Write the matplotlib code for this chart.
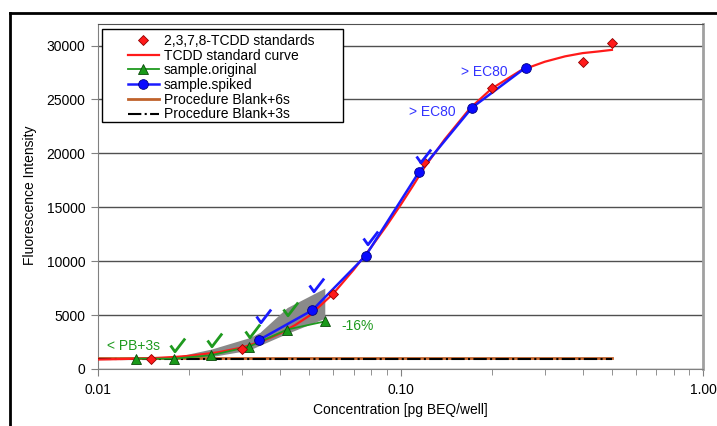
import numpy as np
import matplotlib
matplotlib.use('Agg')
import matplotlib.pyplot as plt
from matplotlib.ticker import FuncFormatter, LogLocator, MultipleLocator
from matplotlib.lines import Line2D
from matplotlib.patches import Rectangle
from matplotlib.path import Path
from matplotlib.transforms import offset_copy

plt.rcParams['font.family'] = ['Liberation Sans', 'DejaVu Sans']

## data
std_conc = [0.015, 0.030, 0.060, 0.120, 0.200, 0.400, 0.500]
std_fi = [950, 1900, 7000, 19200, 26100, 28500, 30200]

curve_conc = [0.010, 0.012, 0.015, 0.018, 0.020, 0.025, 0.030, 0.035, 0.040, 0.045, 0.050,
              0.060, 0.070, 0.080, 0.090, 0.100, 0.110, 0.120, 0.140, 0.170, 0.200,
              0.250, 0.300, 0.350, 0.400, 0.450, 0.500]
curve_fi = [880, 920, 1000, 1120, 1220, 1550, 2000, 2600, 3300, 4100, 4950,
            7000, 9200, 11300, 13300, 15200, 17000, 18700, 21300, 24200, 26000,
            27700, 28500, 29000, 29300, 29450, 29600]

orig_conc = [0.01336, 0.0178, 0.0237, 0.0316, 0.0422, 0.0562]
orig_fi = [960, 960, 1280, 2080, 3660, 4410]

spiked_conc = [0.0341, 0.0511, 0.0767, 0.115, 0.1725, 0.259]
spiked_fi = [2700, 5450, 10500, 18250, 24250, 27950]

band_conc = [0.0178, 0.0237, 0.0316, 0.0343, 0.0422, 0.0562]
band_lo = [950, 1150, 1750, 2200, 3300, 4700]
band_hi = [1100, 1850, 2900, 3400, 5700, 7500]

blank_conc = [0.01, 0.5]
pb_6s = 1010
pb_3s = 950

green_checks = [0.0178, 0.0237, 0.0316, 0.0422]   # original samples inside range
blue_checks = [0.0341, 0.0511, 0.0767, 0.115]     # spiked samples inside range

######## PLOT
fig = plt.figure(figsize=(7.17, 4.26), dpi=100)
ax = fig.add_axes([98/717, 57/426, 605/717, 345/426])

ax.set_xscale('log')
ax.set_xlim(0.01, 1.0)
ax.set_ylim(0, 32000)

ax.yaxis.set_major_locator(MultipleLocator(5000))
ax.grid(axis='y', color='#505050', lw=1, zorder=0)
ax.xaxis.set_major_locator(LogLocator(base=10))
ax.xaxis.set_minor_locator(LogLocator(base=10, subs=np.arange(2, 10)))
ax.xaxis.set_minor_formatter(FuncFormatter(lambda v, p: ''))
ax.xaxis.set_major_formatter(FuncFormatter(lambda v, p: '%.2f' % v))
ax.tick_params(axis='both', which='major', direction='out', length=5, color='#808080',
               labelsize=10, pad=4)
ax.tick_params(axis='x', which='minor', direction='out', length=4, color='#808080')
ax.tick_params(axis='x', which='major', pad=5)

ax.spines['left'].set_color('#808080')
ax.spines['bottom'].set_color('#808080')
ax.spines['top'].set_color('#505050')
ax.spines['right'].set_color('#a0a0a0')
ax.spines['right'].set_linewidth(2)

# grey uncertainty band
ax.fill_between(band_conc, band_lo, band_hi, color='#8a8a8a', lw=0, zorder=2)

# blank lines
h_pb6, = ax.plot(blank_conc, [pb_6s, pb_6s], color='#c0622b', lw=2, zorder=3,
                 label='Procedure Blank+6s')
h_pb3, = ax.plot(blank_conc, [pb_3s, pb_3s], color='black', lw=1.5, ls='-.', zorder=3.5,
                 label='Procedure Blank+3s')

h_curve, = ax.plot(curve_conc, curve_fi, color='#ff1a1a', lw=1.6, zorder=4,
                   label='TCDD standard curve')
h_orig, = ax.plot(orig_conc, orig_fi, color='#1f9a1f', lw=1.3, marker='^', ms=7,
                  mfc='#1a9a1a', mec='#0a4a0a', mew=0.6, zorder=5, label='sample.original')
h_spk, = ax.plot(spiked_conc, spiked_fi, color='#1a1aff', lw=1.8, marker='o', ms=7,
                 mfc='#0a0aff', mec='#000080', mew=0.6, zorder=6, label='sample.spiked')
h_std, = ax.plot(std_conc, std_fi, ls='none', marker='D', ms=5.5, mfc='#ff1a1a',
                 mec='#900000', mew=0.6, zorder=7, label='2,3,7,8-TCDD standards')

# check marks above the samples that are within range (drawn as a path marker)
tick_mark = Path([(-0.5, 0.0), (-0.18, -0.45), (0.55, 0.5)],
                 [Path.MOVETO, Path.LINETO, Path.LINETO])
orig_lookup = dict(zip(orig_conc, orig_fi))
for c, dy in zip(green_checks, [10, 11, 11, 15]):
    tr = offset_copy(ax.transData, fig=fig, x=2, y=dy, units='points')
    ax.plot([c], [orig_lookup[c]], ls='none', marker=tick_mark, ms=11, mew=2.0,
            mfc='none', mec='#1f9a1f', transform=tr, zorder=8, clip_on=False)
spk_lookup = dict(zip(spiked_conc, spiked_fi))
for c, dy in zip(blue_checks, [17, 18, 13, 12]):
    tr = offset_copy(ax.transData, fig=fig, x=3, y=dy, units='points')
    ax.plot([c], [spk_lookup[c]], ls='none', marker=tick_mark, ms=11, mew=2.0,
            mfc='none', mec='#1a1aff', transform=tr, zorder=8, clip_on=False)

# annotations
ax.text(0.0160, 2170, '< PB+3s', ha='right', va='center', color='#1f9a1f', fontsize=10)
ax.annotate('-16%', (orig_conc[-1], orig_fi[-1]), xytext=(12, -3), textcoords='offset points',
            ha='left', va='center', color='#1f9a1f', fontsize=10)
ax.annotate('> EC80', (spiked_conc[4], spiked_fi[4]), xytext=(-12, -3),
            textcoords='offset points', ha='right', va='center', color='#3333ff', fontsize=10)
ax.annotate('> EC80', (spiked_conc[5], spiked_fi[5]), xytext=(-13, -3),
            textcoords='offset points', ha='right', va='center', color='#3333ff', fontsize=10)

# legend with a hand drawn frame
ax.add_patch(Rectangle((102/717, 1 - 122/426), 241/717, 93/426, transform=fig.transFigure,
                       facecolor='white', edgecolor='black', lw=1, clip_on=False, zorder=9))
leg = ax.legend(handles=[h_std, h_curve, h_orig, h_spk, h_pb6, h_pb3], loc='upper left',
                bbox_to_anchor=(121/717, 1 - 27/426), bbox_transform=fig.transFigure,
                frameon=False, borderpad=0, labelspacing=0.05, handlelength=2.2,
                handletextpad=0.4, fontsize=10)
leg.set_zorder(10)

# axis titles
fig.text(400/717, 1 - 410/426, 'Concentration [pg BEQ/well]', ha='center', va='center',
         fontsize=10)
fig.text(30/717, 1 - 195/426, 'Fluorescence Intensity', ha='center', va='center',
         rotation=90, fontsize=10)

# outer frame (left and top edges)
fig.add_artist(Line2D([10/717, 10/717], [0, 1 - 13/426], color='black', lw=2))
fig.add_artist(Line2D([10/717, 1], [1 - 13/426, 1 - 13/426], color='black', lw=2))

plt.savefig('out.png', dpi=100, facecolor='white')
